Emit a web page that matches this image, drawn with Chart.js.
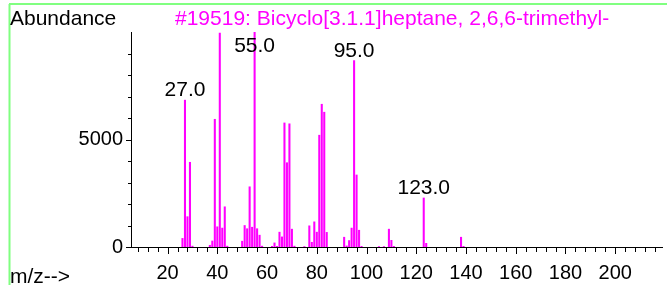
<!DOCTYPE html>
<html>
<head>
<meta charset="utf-8">
<script src="https://cdn.jsdelivr.net/npm/chart.js@4"></script>
<style>
  body { margin: 0; background: #fff; }
  canvas { display: block; }
</style>
</head>
<body>
<canvas id="spektrum" width="667" height="285"></canvas>
<script>
// m/z og abundance lest av figuren
const mz = [26, 27, 28, 29, 30, 37, 38, 39, 40, 41, 42, 43, 44,
  50, 51, 52, 53, 54, 55, 56, 57, 58, 62, 63, 64, 65, 66, 67, 68, 69, 70, 71,
  75, 77, 78, 79, 80, 81, 82, 83, 84, 91, 92, 93, 94, 95, 96, 97, 98,
  105, 107, 109, 110, 111, 123, 124, 138, 139];
const abundance = [400, 6830, 1410, 3940, 40, 80, 280, 5940, 940, 9950, 880, 1870, 40,
  270, 1000, 850, 2800, 920, 10000, 850, 550, 40, 30, 190, 30, 690, 470, 5770, 3920, 5730, 830, 40,
  20, 985, 220, 1170, 690, 5200, 6640, 6270, 680, 455, 50, 300, 880, 8670, 3350, 780, 30,
  20, 20, 830, 310, 30, 2280, 170, 455, 30];
const labelPeaks = [27, 55, 95, 123];
const xTicks = [20, 40, 60, 80, 100, 120, 140, 160, 180, 200];
const yTicks = [0, 5000];

const tittel = '#19519: Bicyclo[3.1.1]heptane, 2,6,6-trimethyl-';
const font = 'Liberation Sans, Arial, sans-serif';

// teiknar ramme, tekstar, små tick-strekar og peak-etikettar
const ekstra = {
  id: 'ekstra',
  afterDraw(chart) {
    const ctx = chart.ctx;
    const xs = chart.scales.x, ys = chart.scales.y;
    ctx.save();

    // grøn ramme
    ctx.strokeStyle = '#80ff80';
    ctx.lineWidth = 2;
    ctx.beginPath();
    ctx.moveTo(9, 4); ctx.lineTo(667, 4);
    ctx.moveTo(9.5, 4); ctx.lineTo(9.5, 285);
    ctx.stroke();

    // tick-strekar
    ctx.strokeStyle = '#000';
    ctx.lineWidth = 1;
    ctx.beginPath();
    for (let v = 8; v <= 216; v += 4) {
      const px = Math.round(xs.getPixelForValue(v)) + 0.5;
      const len = v % 20 === 0 ? 7 : 5;
      ctx.moveTo(px, ys.bottom); ctx.lineTo(px, ys.bottom + len);
    }
    for (let v = 0; v <= 9000; v += 1000) {
      const py = Math.round(ys.getPixelForValue(v)) + 0.5;
      const len = v % 5000 === 0 ? 5 : 3;
      ctx.moveTo(xs.left - len, py); ctx.lineTo(xs.left, py);
    }
    ctx.stroke();

    // overskrifter
    ctx.font = '21px ' + font;
    ctx.textBaseline = 'alphabetic';
    ctx.textAlign = 'left';
    ctx.fillStyle = '#000';
    ctx.fillText('Abundance', 10, 25);
    ctx.fillText('m/z-->', 10, 283);
    ctx.fillStyle = '#ff00ff';
    ctx.fillText(tittel, 175, 25);

    // peak-etikettar
    ctx.fillStyle = '#000';
    ctx.textAlign = 'center';
    labelPeaks.forEach(m => {
      const a = abundance[mz.indexOf(m)];
      const px = xs.getPixelForValue(m);
      const py = ys.getPixelForValue(a);
      ctx.fillText(m.toFixed(1), px, Math.max(py - 4, 52));
    });
    ctx.restore();
  }
};

const ctx = document.getElementById('spektrum');

new Chart(ctx, {
  type: 'bar',
  data: {
    datasets: [{
      data: mz.map((m, i) => ({ x: m, y: abundance[i] })),
      backgroundColor: '#ff00ff',
      barThickness: 1.4
    }]
  },
  options: {
    responsive: false,
    animation: false,
    layout: { padding: { top: 32, right: 5, left: 0, bottom: 0 } },
    plugins: {
      legend: { display: false },
      tooltip: { enabled: false }
    },
    scales: {
      x: {
        type: 'linear',
        offset: false,
        min: 5.3,
        max: 218.8,
        grid: { display: false, drawTicks: false },
        border: { display: true, color: '#000', width: 1 },
        afterBuildTicks: s => { s.ticks = xTicks.map(v => ({ value: v })); },
        afterFit: s => { s.height = 38; },
        ticks: {
          color: '#000',
          padding: 14,
          maxRotation: 0,
          font: { family: font, size: 20 }
        }
      },
      y: {
        min: 0,
        max: 10000,
        grid: { display: false, drawTicks: false },
        border: { display: true, color: '#000', width: 1 },
        afterBuildTicks: s => { s.ticks = yTicks.map(v => ({ value: v })); },
        afterFit: s => { s.width = 131; },
        ticks: {
          color: '#000',
          padding: 8,
          callback: v => String(v),
          font: { family: font, size: 20 }
        }
      }
    }
  },
  plugins: [ekstra]
});
</script>
</body>
</html>
